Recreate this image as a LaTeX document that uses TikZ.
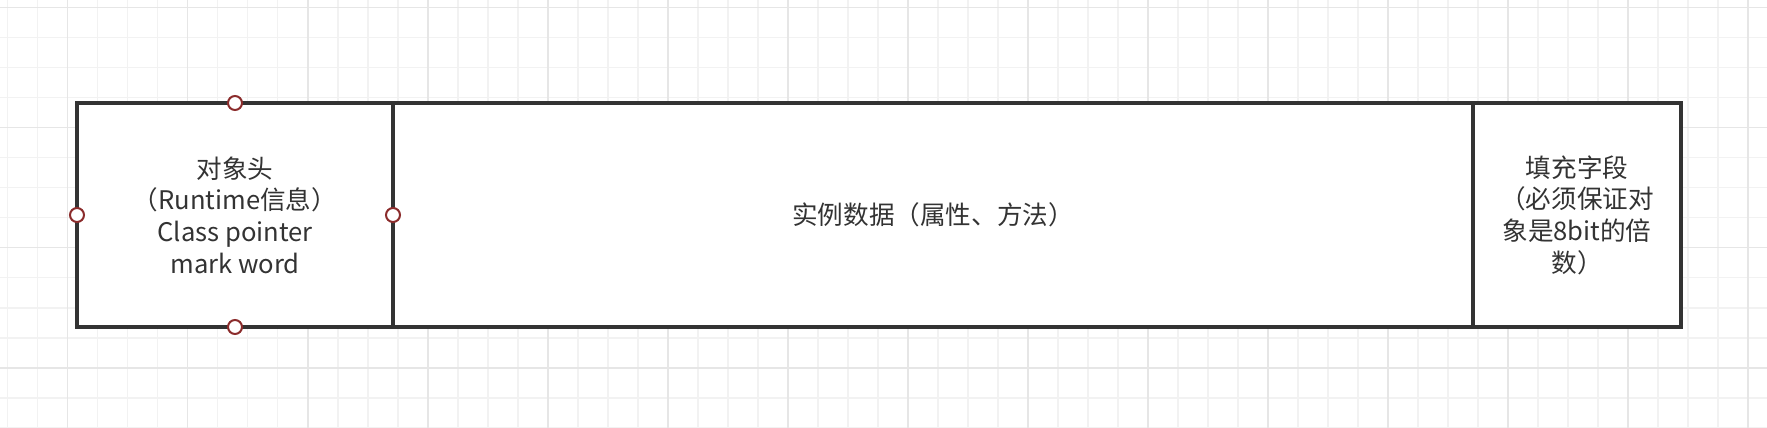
\documentclass[tikz,border=0pt]{standalone}
\usepackage{fontspec}
\setmainfont{Noto Sans CJK SC}
\definecolor{edgec}{HTML}{333333}
\definecolor{portc}{HTML}{8B2C2C}
\definecolor{gmin}{HTML}{F2F2F2}
\definecolor{gmaj}{HTML}{E6E6E6}
\begin{document}
\begin{tikzpicture}[x=1pt,y=-1pt,
  cell/.style={draw=edgec, line width=4pt, fill=white, minimum height=224pt,
    inner sep=0pt, outer sep=0pt, text=edgec, font=\fontsize{25.6pt}{31.7pt}\selectfont, align=center},
  portdot/.style={circle, draw=portc, fill=white, line width=2pt,
    minimum size=14pt, inner sep=0pt},
  gridminor/.style={draw=gmin, line width=1.6pt},
  gridmajor/.style={draw=gmaj, line width=1.6pt}]
\useasboundingbox (0,0) rectangle (1767,428);
\fill[white] (0,0) rectangle (1767,428);
% grid
\foreach \i in {0,...,58}{\draw[gridminor] ({7.6+30.01*\i},0) -- ({7.6+30.01*\i},428);}
\foreach \j in {0,...,14}{\draw[gridminor] (0,{7.6+30.01*\j}) -- (1767,{7.6+30.01*\j});}
\foreach \i in {2,6,...,58}{\draw[gridmajor] ({7.6+30.01*\i},0) -- ({7.6+30.01*\i},428);}
\foreach \j in {0,4,...,14}{\draw[gridmajor] (0,{7.6+30.01*\j}) -- (1767,{7.6+30.01*\j});}
% cells
\node[cell, minimum width=316pt] (head) at (235,215)
  {对象头\\（Runtime信息）\\Class pointer\\mark word};
\node[cell, minimum width=1080pt] (data) at (933,215)
  {实例数据（属性、方法）};
\node[cell, minimum width=208pt] (pad) at (1577,215)
  {填充字段\\（必须保证对\\象是8bit的倍\\数）};
% connection points
\node[portdot] (pn) at (head.north) {};
\node[portdot] (ps) at (head.south) {};
\node[portdot] (pw) at (head.west) {};
\node[portdot] (pe) at (head.east) {};
\end{tikzpicture}
\end{document}
